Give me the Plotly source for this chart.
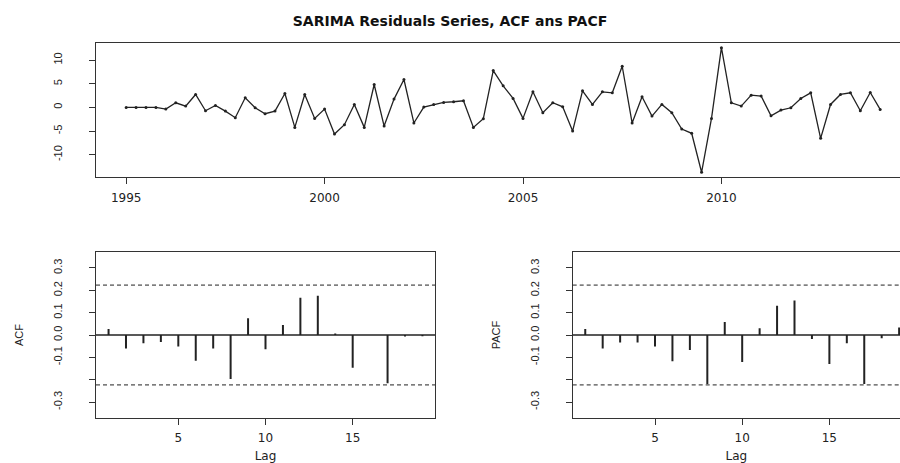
import numpy as np
import plotly.graph_objects as go

# ---------------- data ----------------
start_year = 1995
frequency = 4
resid = [0.0, 0.0, 0.0, 0.0, -0.36, 0.98, 0.27, 2.73, -0.71, 0.41, -0.78, -2.17,
         2.03, -0.08, -1.33, -0.78, 2.94, -4.22, 2.73, -2.32, -0.36, -5.62, -3.66, 0.62,
         -4.22, 4.84, -3.94, 1.75, 5.89, -3.29, 0.06, 0.62, 1.05, 1.19, 1.40, -4.22,
         -2.39, 7.78, 4.55, 1.89, -2.32, 3.29, -1.13, 0.98, 0.13, -5.01, 3.50, 0.62,
         3.29, 3.08, 8.69, -3.30, 2.24, -1.83, 0.63, -1.13, -4.57, -5.48, -13.70, -2.32,
         12.62, 0.98, 0.27, 2.59, 2.40, -1.78, -0.57, -0.08, 1.89, 3.08, -6.53, 0.62,
         2.73, 3.08, -0.71, 3.15, -0.43]

lags = list(range(1, 20))
acf_vals = [0.027, -0.060, -0.037, -0.031, -0.051, -0.115, -0.060, -0.197, 0.075, -0.064,
            0.045, 0.167, 0.176, 0.007, -0.146, 0.000, -0.216, -0.007, -0.006]
pacf_vals = [0.027, -0.060, -0.034, -0.034, -0.051, -0.118, -0.067, -0.219, 0.058, -0.121,
             0.030, 0.131, 0.154, -0.018, -0.130, -0.037, -0.219, -0.015, 0.033]

top_ticks = [-10, -5, 0, 5, 10]
top_ticktext = ["-10", "-5", "0", "5", "10"]
year_ticks = [1995, 2000, 2005, 2010]
cf_ticks = [-0.3, -0.2, -0.1, 0.0, 0.1, 0.2, 0.3]
cf_ticktext = ["-0.3", "", "-0.1", "0.0", "0.1", "0.2", "0.3"]
lag_ticks = [5, 10, 15]

title_text = "SARIMA Residuals Series, ACF ans PACF"

# ---------------- derived ----------------
n = len(resid)
time = [start_year + i / frequency for i in range(n)]
clim = 1.96 / np.sqrt(n)

def spikes(xs, ys):
    sx, sy = [], []
    for x, y in zip(xs, ys):
        sx += [x, x, None]
        sy += [0, y, None]
    return sx, sy

W, H = 900, 463
INK = "#222222"
BOX = "#333333"
HFONT = dict(family="DejaVu Sans, Liberation Sans, Arial", size=12, color="#222")
VFONT = dict(family="Liberation Sans, Arial", size=11, color="#222")

fig = go.Figure()

fig.add_trace(go.Scatter(x=time, y=resid, mode="lines+markers",
                         line=dict(color=INK, width=1.3),
                         marker=dict(color=INK, size=3),
                         xaxis="x", yaxis="y", showlegend=False))

ax, ay = spikes(lags, acf_vals)
fig.add_trace(go.Scatter(x=ax, y=ay, mode="lines", line=dict(color=INK, width=2),
                         xaxis="x2", yaxis="y2", showlegend=False))
px_, py_ = spikes(lags, pacf_vals)
fig.add_trace(go.Scatter(x=px_, y=py_, mode="lines", line=dict(color=INK, width=2),
                         xaxis="x3", yaxis="y3", showlegend=False))

# reference lines
for xa, ya in (("x2", "y2"), ("x3", "y3")):
    fig.add_shape(type="line", xref=f"{xa} domain", yref=ya, x0=0, x1=1, y0=0, y1=0,
                  line=dict(color=INK, width=1.3))
    for c in (clim, -clim):
        fig.add_shape(type="line", xref=f"{xa} domain", yref=ya, x0=0, x1=1, y0=c, y1=c,
                      line=dict(color=INK, width=1, dash="4px,3px"))

def xaxis_common(**kw):
    d = dict(showline=True, linecolor=BOX, linewidth=1.3, mirror=True,
             ticks="outside", ticklen=6, tickcolor=BOX, tickwidth=1,
             showgrid=False, zeroline=False, tickfont=HFONT, ticklabelstandoff=3)
    d.update(kw)
    return d

def yaxis_common(**kw):
    d = dict(showline=True, linecolor=BOX, linewidth=1.3, mirror=False,
             ticks="outside", ticklen=6, tickcolor=BOX, tickwidth=1,
             showgrid=False, zeroline=False, tickfont=VFONT, tickangle=-90,
             ticklabelstandoff=22)
    d.update(kw)
    return d

x_left = 96 / W
acf_right = 435 / W
pacf_left = 572.7 / W
top_dom = [1 - 177 / H, 1 - 43 / H]
bot_dom = [1 - 417.7 / H, 1 - 252.3 / H]

fig.update_layout(
    width=W, height=H,
    margin=dict(l=0, r=0, t=0, b=0),
    paper_bgcolor="white", plot_bgcolor="white",
    title=dict(text=title_text, x=0.5, xanchor="center", xref="paper",
               y=1 - 21 / H, yanchor="middle", yref="paper",
               font=dict(family="DejaVu Sans, Liberation Sans, Arial", size=14,
                         color="#111", weight="bold")),
    xaxis=xaxis_common(domain=[x_left, 1.0], range=[1994.24, 2014.5],
                       tickvals=year_ticks, anchor="y"),
    yaxis=yaxis_common(domain=top_dom, range=[-14.7, 13.6],
                       tickvals=top_ticks, ticktext=top_ticktext, anchor="x"),
    xaxis2=xaxis_common(domain=[x_left, acf_right], range=[0.28, 19.72],
                        tickvals=lag_ticks, anchor="y2",
                        title=dict(text="Lag", font=HFONT, standoff=8)),
    yaxis2=yaxis_common(domain=bot_dom, range=[-0.37, 0.37], mirror=True,
                        tickvals=cf_ticks, ticktext=cf_ticktext, anchor="x2",
                        title=dict(text="ACF", font=VFONT, standoff=26)),
    xaxis3=xaxis_common(domain=[pacf_left, 1.0], range=[0.28, 19.05],
                        tickvals=lag_ticks, anchor="y3",
                        title=dict(text="Lag", font=HFONT, standoff=8)),
    yaxis3=yaxis_common(domain=bot_dom, range=[-0.37, 0.37],
                        tickvals=cf_ticks, ticktext=cf_ticktext, anchor="x3",
                        title=dict(text="PACF", font=VFONT, standoff=26)),
)

fig.write_html("out.html")
